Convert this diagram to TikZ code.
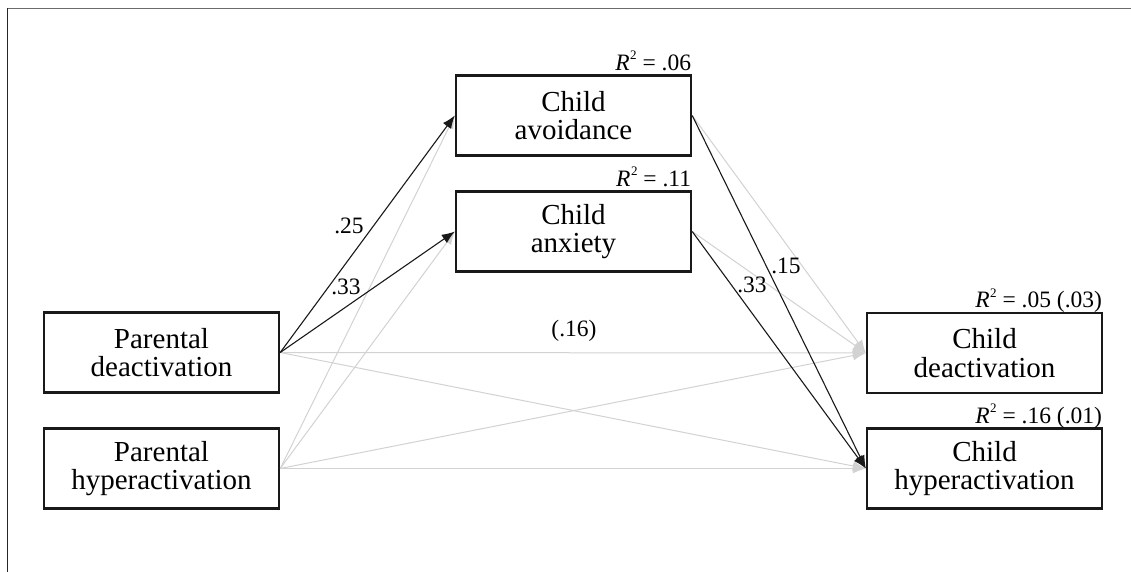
\documentclass[tikz,border=0pt]{standalone}
\usepackage{fontspec}
\setmainfont{Liberation Serif}
\usetikzlibrary{arrows.meta}
\definecolor{pathgray}{HTML}{D2D2D2}
\definecolor{framegray}{HTML}{6A6A6A}
\begin{document}
\begin{tikzpicture}[x=1pt,y=-1pt,
  varbox/.style={draw=black!90, line width=2.4pt, minimum width=235pt, minimum height=80pt,
    align=center, inner sep=0pt, font=\fontsize{29}{28.5}\selectfont},
  rsq/.style={anchor=base east, inner sep=0pt, font=\fontsize{23.5}{25}\selectfont},
  coef/.style={inner sep=0pt, font=\fontsize{23.5}{25}\selectfont},
  sigpath/.style={draw=black!90, line width=1.1pt, -{Latex[length=13pt,width=10pt]}},
  nspath/.style={draw=pathgray, line width=1pt, -{Latex[length=13pt,width=10pt]}}]
\useasboundingbox (0,0) rectangle (1131,572);

% frame
\draw[framegray, line width=1.6pt] (7,8.5) -- (1131,8.5);
\draw[black!85, line width=1pt] (7,8) -- (7,572);

% variables
\node[varbox] (pd) at (161.5,352.5) {Parental\\deactivation};
\node[varbox] (ph) at (161.5,468.5) {Parental\\hyperactivation};
\node[varbox] (ca) at (573.5,115.5) {Child\\avoidance};
\node[varbox] (cx) at (573.5,231.5) {Child\\anxiety};
\node[varbox] (cd) at (984.5,353) {Child\\deactivation};
\node[varbox] (ch) at (984.5,468.5) {Child\\hyperactivation};

% explained variance
\newcommand{\rsqtext}[1]{\textit{R}\kern0.5pt\raisebox{0.45em}{\fontsize{13}{13}\selectfont 2} = #1}
\node[rsq] (rca) at ([yshift=4pt,xshift=-1pt]ca.north east) {\rsqtext{.06}};
\node[rsq] (rcx) at ([yshift=4pt,xshift=-1pt]cx.north east) {\rsqtext{.11}};
\node[rsq] (rcd) at ([yshift=4pt,xshift=-1pt]cd.north east) {\rsqtext{.05 (.03)}};
\node[rsq] (rch) at ([yshift=4pt,xshift=-1pt]ch.north east) {\rsqtext{.16 (.01)}};

% non-significant paths
\draw[nspath] (ph.east) -- (ca.west);
\draw[nspath] (ph.east) -- (cx.west);
\draw[nspath] (pd.east) -- (cd.west);
\draw[nspath] (pd.east) -- (ch.west);
\draw[nspath] (ph.east) -- (cd.west);
\draw[nspath] (ph.east) -- (ch.west);
\draw[nspath] (ca.east) -- (cd.west);
\draw[nspath] (cx.east) -- (cd.west);

% significant paths
\draw[sigpath] (pd.east) -- (ca.west);
\draw[sigpath] (pd.east) -- (cx.west);
\draw[sigpath] (ca.east) -- (ch.west);
\draw[sigpath] (cx.east) -- (ch.west);

% coefficients
\node[coef] (b1) at (349,226) {.25};
\node[coef] (b2) at (346,287) {.33};
\node[coef] (b3) at (574,331) {(.16)};
\node[coef] (b4) at (752,285) {.33};
\node[coef] (b5) at (786,266) {.15};
\end{tikzpicture}
\end{document}
